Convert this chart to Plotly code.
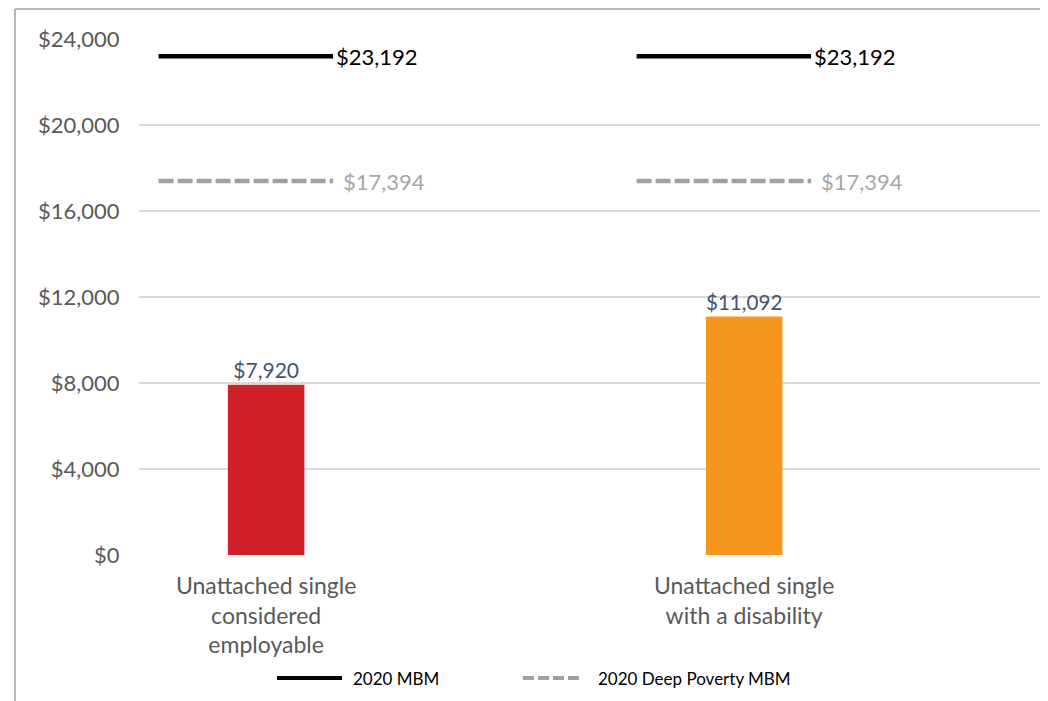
import plotly.graph_objects as go

# ---- data -------------------------------------------------------------------
categories = ["Unattached single<br>considered<br>employable",
              "Unattached single<br>with a disability"]
income = [7920, 11092]
mbm = [23192, 23192]
deep_mbm = [17394, 17394]
bar_colors = ["#CF2029", "#F7961F"]
y_ticks = [0, 4000, 8000, 12000, 16000, 20000, 24000]
y_tick_text = ["$0", "$4,000", "$8,000", "$12,000", "$16,000", "$20,000", "$24,000"]

# ---- layout constants -------------------------------------------------------
# page has an 8px body margin, so figure coords = page coords - 8
OFF = 8
W, H = 1048 - OFF, 701 - OFF
L, T = 139 - OFF, 39 - OFF
PW, PH = 902, 516
R, B = W - L - PW, H - T - PH

FONT = "Lato, 'Open Sans', sans-serif"
GREY_TXT = "#595959"
DASH_GREY = "#A0A0A0"


def px(x):   # page pixel -> paper x
    return (x - OFF - L) / PW


def py(y):   # page pixel -> paper y
    return (T + PH - (y - OFF)) / PH


xs = list(range(len(categories)))
line_lo, line_hi = -0.225, 0.14   # threshold line extent around each category

fig = go.Figure()

fig.add_trace(go.Bar(
    x=xs, y=income, width=0.16,
    marker=dict(color=bar_colors, line=dict(width=0)),
    text=[f"${v:,.0f}" for v in income],
    textposition="outside",
    textfont=dict(family=FONT, size=21, color="#44546A"),
    cliponaxis=False,
    showlegend=False,
    hoverinfo="skip",
))

for i, c in enumerate(xs):
    fig.add_trace(go.Scatter(
        x=[c + line_lo, c + line_hi], y=[mbm[i], mbm[i]],
        mode="lines", line=dict(color="black", width=4.5),
        showlegend=False, hoverinfo="skip",
    ))
    fig.add_trace(go.Scatter(
        x=[c + line_lo, c + line_hi], y=[deep_mbm[i], deep_mbm[i]],
        mode="lines", line=dict(color=DASH_GREY, width=4.5, dash="15px,4px"),
        showlegend=False, hoverinfo="skip",
    ))
    fig.add_annotation(x=c + line_hi, y=mbm[i], text=f"${mbm[i]:,.0f}",
                       xanchor="left", yanchor="middle", xshift=1, showarrow=False,
                       font=dict(family=FONT, size=22, color="black"))
    fig.add_annotation(x=c + line_hi, y=deep_mbm[i], text=f"${deep_mbm[i]:,.0f}",
                       xanchor="left", yanchor="middle", xshift=8, showarrow=False,
                       font=dict(family=FONT, size=22, color="#A6A6A6"))

# ---- manual legend ----------------------------------------------------------
ly = py(678)
fig.add_shape(type="line", xref="paper", yref="paper",
              x0=px(277), x1=px(342), y0=ly, y1=ly,
              line=dict(color="black", width=4))
fig.add_annotation(xref="paper", yref="paper", x=px(351), y=ly, text="2020 MBM",
                   xanchor="left", yanchor="middle", showarrow=False,
                   font=dict(family=FONT, size=17, color="black"))
fig.add_shape(type="line", xref="paper", yref="paper",
              x0=px(523), x1=px(582), y0=ly, y1=ly,
              line=dict(color=DASH_GREY, width=4, dash="11px,4px"))
fig.add_annotation(xref="paper", yref="paper", x=px(596), y=ly,
                   text="2020 Deep Poverty MBM",
                   xanchor="left", yanchor="middle", showarrow=False,
                   font=dict(family=FONT, size=17, color="black"))

# ---- chart border (top and left visible) ------------------------------------
fig.add_shape(type="line", xref="paper", yref="paper",
              x0=px(15), x1=px(1060), y0=py(9), y1=py(9),
              line=dict(color="#A0A0A0", width=1.5))
fig.add_shape(type="line", xref="paper", yref="paper",
              x0=px(15), x1=px(15), y0=py(9), y1=py(710),
              line=dict(color="#A0A0A0", width=1.5))

fig.update_xaxes(
    range=[-0.266, 1.621],
    tickvals=xs, ticktext=categories,
    tickfont=dict(family=FONT, size=23, color=GREY_TXT),
    ticks="outside", ticklen=10, tickcolor="rgba(0,0,0,0)",
    showgrid=False, zeroline=False, showline=False,
)
fig.update_yaxes(
    range=[0, 24000],
    tickvals=y_ticks, ticktext=y_tick_text,
    tickfont=dict(family=FONT, size=22, color=GREY_TXT),
    ticks="outside", ticklen=14, tickcolor="rgba(0,0,0,0)",
    showgrid=True, gridcolor="#D9D9D9", gridwidth=2,
    zeroline=False, showline=False,
)

fig.update_layout(
    width=W, height=H,
    margin=dict(l=L, r=R, t=T, b=B),
    paper_bgcolor="white", plot_bgcolor="white",
    showlegend=False,
    font=dict(family=FONT),
)

fig.write_html("out.html")
